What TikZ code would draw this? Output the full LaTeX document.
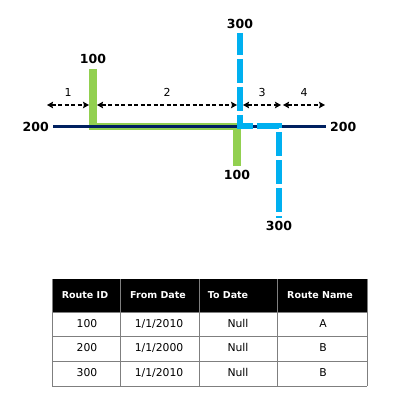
\documentclass[tikz,border=0pt]{standalone}
\usepackage{fontspec}
\setmainfont{DejaVu Sans}
\usetikzlibrary{positioning,calc,arrows.meta}
\definecolor{routegreen}{HTML}{92D050}
\definecolor{routeblue}{HTML}{00B0F0}
\definecolor{routenavy}{HTML}{002060}
\definecolor{gridgray}{HTML}{7F7F7F}

\begin{document}
\begin{tikzpicture}[
              x=1pt,y=-1pt,
              route/.style={
                  line width=#1,
                },
              rlabel/.style={
                  font=\fontsize{12.5}{14}\selectfont\bfseries,
                  inner sep=0pt,
                },
              seglabel/.style={
                  font=\fontsize{11}{13}\selectfont,
                  inner sep=0pt,
                },
              segarrow/.style={
                  line width=1.4pt,
                  dash pattern=on 4pt off 2.5pt,
                  {Stealth[length=6pt,width=6.5pt,inset=1pt]}-{Stealth[length=6pt,width=6.5pt,inset=1pt]},
                },
              cell/.style={
                  font=\fontsize{10.8}{12}\selectfont,
                  inner sep=0pt,
                  text height=8pt,
                  text depth=2pt,
                },
              headcell/.style={
                  cell,
                  font=\fontsize{9.5}{11}\selectfont\bfseries,
                  text=white,
                }
            ]
            \useasboundingbox (0,0) rectangle (400,406);
            % route 200
            \coordinate (r200a) at (53,127);
            \coordinate (r200b) at (326,127);
            % route 100
            \coordinate (r100a) at (93,69);
            \coordinate (r100b) at (93,126.7);
            \coordinate (r100c) at (237,126.7);
            \coordinate (r100d) at (237,166);
            % route 300
            \coordinate (r300a) at (240,33);
            \coordinate (r300b) at (240,126);
            \coordinate (r300c) at (279,126);
            \coordinate (r300d) at (279,218);
            \draw[route=7.5pt,routegreen] (r100a) -- (r100b) -- (r100c) -- (r100d);
            \draw[route=3pt,routenavy] (r200a) -- (r200b);
            \draw[route=6.5pt,routeblue,dash pattern=on 24pt off 4pt,dash phase=2pt]
            (r300a) -- (r300b) -- (r300c) -- (r300d);
            \node[rlabel,left=4pt of r200a] (l200a) {200};
            \node[rlabel,right=4pt of r200b] (l200b) {200};
            \node[rlabel,above=5pt of r100a] (l100a) {100};
            \node[rlabel,below=4pt of r100d] (l100b) {100};
            \node[rlabel,above=4pt of r300a] (l300a) {300};
            \node[rlabel,below=3pt of r300d] (l300b) {300};
            % segments
            \foreach \Value/\From/\To in {1/47/89,2/97/237,3/243/281,4/283/325}
            {
              \coordinate (s\Value a) at (\From,105);
              \coordinate (s\Value b) at (\To,105);
              \draw[segarrow] (s\Value a) -- (s\Value b);
              \node[seglabel] (n\Value) at ($(s\Value a)!0.5!(s\Value b)+(0,-13)$) {\Value};
            }
            % table
            \fill (52,279) rectangle (367,312);
            \draw[gridgray,thick] (52,312) -- (367,312)
            (52,336) -- (367,336)
            (52,361) -- (367,361)
            (52,386) -- (367,386);
            \draw[gridgray] (52,279) -- (52,386)
            (120,279) -- (120,386)
            (199,279) -- (199,386)
            (277,279) -- (277,386)
            (367,279) -- (367,386);
            \node[headcell] (h1) at (85,295) {Route ID};
            \node[headcell] (h2) at (158,295) {From Date};
            \node[headcell] (h3) at (228,295) {To Date};
            \node[headcell] (h4) at (320,295) {Route Name};
            \foreach \Row/\Y/\Id/\Date/\Name in {1/324/100/1\slash1\slash2010/A,2/348/200/1\slash1\slash2000/B,3/373/300/1\slash1\slash2010/B}
            {
              \node[cell] (c\Row a) at (87,\Y) {\Id};
              \node[cell] (c\Row b) at (159,\Y) {\Date};
              \node[cell] (c\Row c) at (238,\Y) {Null};
              \node[cell] (c\Row d) at (323,\Y) {\Name};
            }
          \end{tikzpicture}
\end{document}
